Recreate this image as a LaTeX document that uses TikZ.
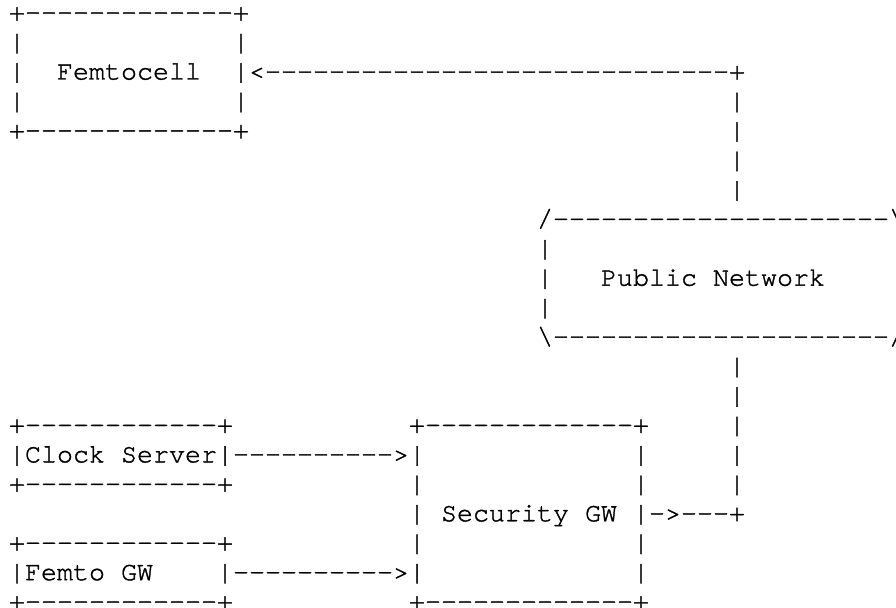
\documentclass[tikz,border=0pt]{standalone}
\usepackage{fontspec}
\setmonofont{TeX Gyre Cursor}[FakeBold=1.3]
\begin{document}
\begin{tikzpicture}[x=1bp,y=1bp,
  ascii/.style={anchor=base west,inner sep=0pt,outer sep=0pt,text=black,
    font=\fontsize{26.67bp}{30bp}\selectfont\ttfamily}]
% character cell grid: 16bp wide columns, 29.45bp rows
\newcommand\seg[4]{\node[ascii] (#1) at ({9+16*#2},{-(79.5+(#3-3)*29.45)}) {#4};}
\useasboundingbox[fill=white] (0,0) rectangle (896,-608);

% Femtocell box and its link
\seg{fcTop}{0}{1}{+-------------+}
\seg{fcL2}{0}{2}{|}
\seg{fcR2}{14}{2}{|}
\seg{fcL3}{0}{3}{|}
\seg{fcName}{3}{3}{Femtocell}
\seg{fcLink}{14}{3}{|<-----------------------------+}
\seg{fcL4}{0}{4}{|}
\seg{fcR4}{14}{4}{|}
\seg{upA}{45}{4}{|}
\seg{fcBot}{0}{5}{+-------------+}
\seg{upB}{45}{5}{|}
\seg{upC}{45}{6}{|}
\seg{upD}{45}{7}{|}

% Public Network cloud
\seg{pnTop}{33}{8}{/---------------------\textbackslash}
\seg{pnL9}{33}{9}{|}
\seg{pnL10}{33}{10}{|}
\seg{pnName}{37}{10}{Public Network}
\seg{pnL11}{33}{11}{|}
\seg{pnBot}{33}{12}{\textbackslash---------------------/}

% link down to the Security GW
\seg{dnA}{45}{13}{|}
\seg{dnB}{45}{14}{|}
\seg{dnC}{45}{15}{|}
\seg{dnD}{45}{16}{|}
\seg{dnE}{45}{17}{|}

% Clock Server, Femto GW and Security GW
\seg{csTop}{0}{15}{+------------+}
\seg{sgTop}{25}{15}{+-------------+}
\seg{csRow}{0}{16}{|Clock Server|---------->|}
\seg{sgR16}{39}{16}{|}
\seg{csBot}{0}{17}{+------------+}
\seg{sgL17}{25}{17}{|}
\seg{sgR17}{39}{17}{|}
\seg{sgL18}{25}{18}{|}
\seg{sgName}{27}{18}{Security GW}
\seg{sgLink}{39}{18}{|->---+}
\seg{fgTop}{0}{19}{+------------+}
\seg{sgL19}{25}{19}{|}
\seg{sgR19}{39}{19}{|}
\seg{fgName}{0}{20}{|Femto GW}
\seg{fgLink}{13}{20}{|---------->|}
\seg{sgR20}{39}{20}{|}
\seg{fgBot}{0}{21}{+------------+}
\seg{sgBot}{25}{21}{+-------------+}
\end{tikzpicture}
\end{document}
